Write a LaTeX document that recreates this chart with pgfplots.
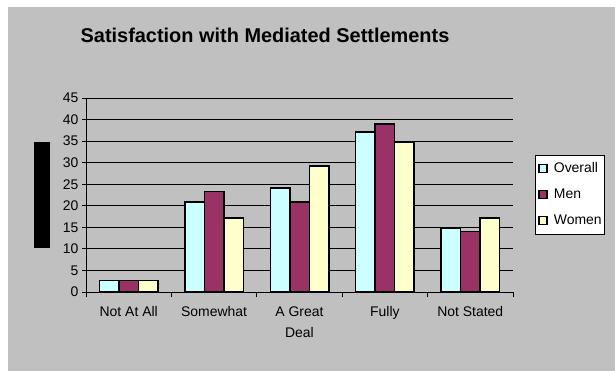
\documentclass[border=0pt]{standalone}
\usepackage{pgfplots}
\pgfplotsset{compat=1.18}
\usepackage{fontspec}
\setmainfont{Liberation Sans}
\definecolor{bgray}{HTML}{C0C0C0}
\definecolor{cOverall}{HTML}{CCFFFF}
\definecolor{cMen}{HTML}{993366}
\definecolor{cWomen}{HTML}{FFFFCC}
\begin{document}
\begin{tikzpicture}[x=1bp,y=1bp]
\fill[white] (0,0) rectangle (615,371);
\fill[bgray] (8,0) rectangle (615,364);
\node[font=\fontsize{20}{24}\selectfont\bfseries] at (265,336) {Satisfaction with Mediated Settlements};
\fill[black] (34,123) rectangle (50,229);
\begin{axis}[
  at={(86bp,79bp)}, anchor=south west,
  scale only axis, width=427bp, height=194bp,
  xmin=-0.5, xmax=4.5, ymin=0, ymax=45,
  ytick={0,5,...,45},
  ymajorgrids, major grid style={black, line width=0.8bp},
  axis x line*=bottom, axis y line*=left,
  axis line style={black, line width=0.8bp},
  xtick={0,1,2,3,4},
  xticklabels={Not At All,Somewhat,{A Great\\Deal},Fully,Not Stated},
  minor xtick={-0.5,0.5,1.5,2.5,3.5,4.5},
  major x tick style={draw=none},
  minor tick length=5bp,
  major tick length=4bp,
  tick align=outside,
  tick style={black, line width=0.8bp},
  xticklabel style={font=\fontsize{14}{21}\selectfont, align=center, anchor=north, yshift=-7bp},
  yticklabel style={font=\fontsize{14}{16}\selectfont},
  /pgf/number format/assume math mode=true,
  ybar, bar width=19.5bp, bar shift auto={0pt},
  every axis plot/.append style={draw=black, line width=1.5bp},
  legend style={at={(1.0515,0.706)}, anchor=north west, draw=black, fill=white,
    font=\fontsize{14}{16}\selectfont, line width=0.8bp, row sep=13bp, column sep=6bp,
    inner xsep=3bp, inner ysep=7bp,
    nodes={inner sep=0pt, text height=10bp, text depth=3bp},
    cells={anchor=west}},
  legend image code/.code={\draw[#1, line width=1.5bp] (0bp,-3.5bp) rectangle (8bp,4.5bp);},
  clip=false,
]
\addplot[fill=cOverall] coordinates {(0,2.7) (1,20.9) (2,24.1) (3,37.1) (4,14.9)};
\addplot[fill=cMen] coordinates {(0,2.7) (1,23.3) (2,20.9) (3,39.0) (4,14.0)};
\addplot[fill=cWomen] coordinates {(0,2.7) (1,17.2) (2,29.2) (3,34.8) (4,17.2)};
\legend{Overall,Men,Women}
\end{axis}
\end{tikzpicture}
\end{document}
